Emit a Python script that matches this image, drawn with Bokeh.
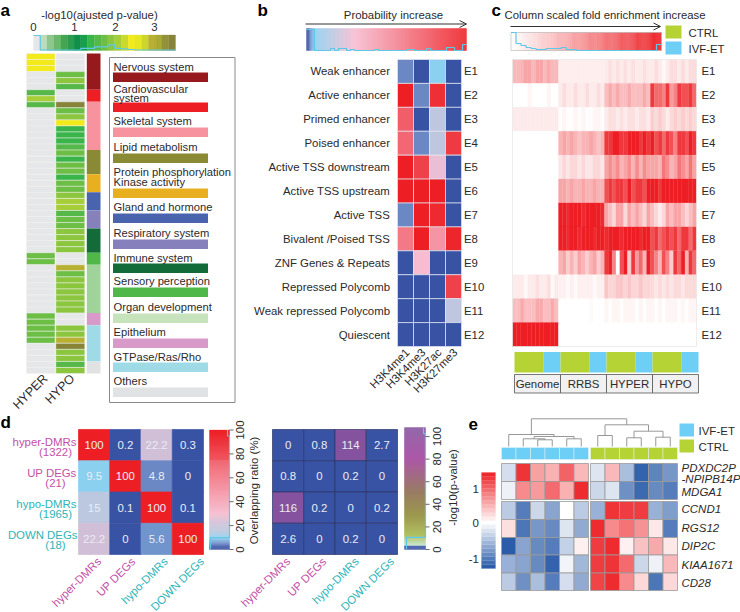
import numpy as np
from bokeh.plotting import figure
from bokeh.embed import file_html
from bokeh.resources import INLINE
from bokeh.models import Range1d, Arrow, OpenHead
from bokeh.core.properties import value

W, H = 740, 612
FONT = "Liberation Sans"
INK = "#2b2a2b"

# ---------- panel a ----------
A_TITLE = "-log10(ajusted p-value)"
A_TICKS = [0, 1, 2, 3]
A_COLORS = ["#e6e7e8", "#bcdcbc", "#8ec78e", "#6bb86b", "#45a650", "#2a9d50", "#108f48", "#16a04c",
            "#3ab54a", "#55b848", "#6cbe45", "#8cc63f", "#a6ce39", "#c8da2c", "#f2ea1b", "#e6e622",
            "#cdd62a", "#b8b030", "#a8a832", "#93923a", "#87843a"]
A_BIN = 0.162
A_HIST = [14, 0, 0, 0, 0, 0, 0, 1.6, 1.6, 3, 3, 5, 1.6, 1, 0.5, 0, 0, 0, 0, 0, 0]
HYPER = [2.35, 2.35, 2.35, 0, 0, 0, 1.6, 2.03, 1.6, 0, 0, 0, 0, 0, 0, 0, 0, 0, 0, 0, 0, 0, 0, 0, 0, 0, 0,
         0, 0, 0, 0, 0, 0, 1.7, 1.7, 0, 0, 0, 0, 0, 0, 0, 0, 1.7, 1.7, 1.7, 1.7, 1.7, 0, 0, 0, 0, 0]
HYPO = [0, 0, 0, 1.7, 1.87, 1.54, 0, 0, 3.3, 1.7, 1.87, 2.35, 1.38, 1.38, 1.38, 1.54, 1.7, 1.38, 1.7, 1.7,
        1.38, 1.7, 1.7, 1.87, 2.03, 2.03, 1.54, 1.7, 1.7, 1.87, 1.87, 1.87, 1.87, 0, 0, 2.9, 1.7, 1.87, 1.87,
        1.87, 1.87, 1.87, 1.87, 0, 0, 1.87, 1.87, 2.9, 3.3, 1.87, 1.87, 1.54, 1.87]
CATEGORY_ROWS = [6, 2, 8, 4, 3, 3, 3, 4, 2, 8, 2, 6, 2]
CATEGORY_STRIP = ["#961a1d", "#ed1f24", "#f6939e", "#8a8a35", "#e8b021", "#4a63ae", "#8680bd", "#126b38",
                  "#4fb848", "#a0d39a", "#d89ac8", "#9fdbe6", "#e1e2e4"]
LEGEND_LABELS = [["Nervous system"], ["Cardiovascular", "system"], ["Skeletal system"], ["Lipid metabolism"],
                 ["Protein phosphorylation", "Kinase activity"], ["Gland and hormone"], ["Respiratory system"],
                 ["Immune system"], ["Sensory perception"], ["Organ development"], ["Epithelium"],
                 ["GTPase/Ras/Rho"], ["Others"]]
LEGEND_COLORS = ["#961a1d", "#ed1f24", "#f6939e", "#8a8a35", "#e8b021", "#4a63ae", "#8680bd", "#126b38",
                 "#4fb848", "#c6e3bc", "#d89ac8", "#9fdbe6", "#e1e2e4"]
LEGEND_TEXT_Y = [[66], [88, 97], [120], [146], [171, 181], [206], [232], [257], [280], [306], [331], [356], [380]]
LEGEND_BAR_Y = [72, 102, 127, 153, 188, 213, 239, 263, 287, 313, 338, 362, 387]

# ---------- panel b ----------
B_STATES = ["Weak enhancer", "Active enhancer", "Primed enhancer", "Poised enhancer", "Active TSS downstream",
            "Active TSS upstream", "Active TSS", "Bivalent /Poised TSS", "ZNF Genes & Repeats",
            "Repressed Polycomb", "Weak repressed Polycomb", "Quiescent"]
B_MARKS = ["H3K4me1", "H3K4me3", "H3K27ac", "H3K27me3"]
B_PROB = [[0.02, 0, 0.05, 0], [1, 0.02, 0.93, 0], [0.72, 0, 0.17, 0], [0.68, 0.02, 0.17, 0.88],
          [1, 0.85, 0.27, 0], [1, 1, 1, 0], [0.02, 1, 0.95, 0], [0.6, 1, 0.48, 0.97],
          [0, 0.3, 0, 0], [0, 0, 0, 0.85], [0, 0, 0, 0.17], [0, 0, 0, 0]]
B_STOPS = [(0, "#3953a4"), (0.012, "#3953a4"), (0.02, "#6b88c5"), (0.05, "#8bd0ef"), (0.3, "#f7bcd0"), (1, "#ed1f24")]
B_HIST = [21, 21, 0, 0, 0, 0, 2, 0, 2, 2, 0, 1, 0, 0, 0, 0, 0, 1, 0, 0, 0, 0, 0, 0, 0, 1, 1, 0, 0, 0, 2, 0, 0,
          0, 0, 3, 3, 0, 0, 6]

# ---------- panel c ----------
C_GROUPS = ["Genome", "RRBS", "HYPER", "HYPO"]
C_STATES = ["E1", "E2", "E3", "E4", "E5", "E6", "E7", "E8", "E9", "E10", "E11", "E12"]
C_FOLD = [
 [2.8,2.8,3,3.6,3.6,2.8,3.6,3.6,2.8,3.4,2.8,2.8, .7,.7,.7,.7,.7,.7,.7,.7,.7,.7,.7,.7, .8,1.3,.8,1.3,.8,1.3,.8,1.3,.8,.8,1.3,.8, .8,1.4,.8,.3,.8,1.4,1.4,.8,1.4,.8,1.4,1.4],
 [0,0,0,0,.4,0,0,0,0,.4,0,0, .8,1.4,.8,.8,1.4,.8,.8,1.4,.8,.8,1.4,.8, 2.6,3.4,2.6,3.4,2.6,2.6,3.4,2.6,2.6,2.6,3.4,2.6, 8,6,6,5,8,4,5,8,7,7,8,6],
 [.8,.8,.8,.8,.8,.8,.8,.8,.8,.8,.8,.8, .1,.4,.1,.1,.4,.1,.4,.1,.1,.4,.4,.1, .8,1.3,1.3,.8,1.3,.8,1.3,1.3,.8,1.3,1.3,.8, 2,1.5,2,1.5,.8,1.5,2,1.5,2,1.5,2,1.5],
 [0,0,0,0,0,0,0,0,0,0,0,0, 3,3.6,3,3.6,3,2.4,3,3,3.6,3,2.4,3, 8,8,9,9,8,8,9,9,9,8,9,8, 9,7,8,6,8,7,5,8,8,7,9,8],
 [0,0,0,0,0,0,0,0,0,0,0,0, 1,1.6,1,1.6,1.6,1,1.6,1,1,1.6,1.6,1, 3.6,4.6,3.6,4.6,3,3.6,4.6,3,4.6,3,4.6,3.6, 3.6,3.6,3,5.5,4.6,3,3.6,5.5,4.6,3.6,5.5,3.6],
 [0,0,0,0,0,0,0,0,0,0,0,0, 3.6,3.6,3,3.6,3,3,3.6,3,3,3.6,3,3, 7,8,7,8,8,7,9,7,8,8,7,9, 9,9,8,9,9,9,9,9,9,9,9,9],
 [0,0,0,0,0,0,0,0,0,0,0,0, 9,9,8.5,9,9,9,8.5,9,9,9,9,8.5, 3.6,2.6,1.6,3.6,3.6,1.6,3.6,2.6,3.6,2.6,1.6,3.6, 2.6,1.6,.8,1.6,3.6,2.6,3.6,3.6,2.6,1.6,2.6,3.6],
 [0,0,0,0,0,0,0,0,0,0,0,0, 9,9,8.5,9,9,8.5,9,9,9,8.5,9,9, 8.5,9,9,9,8.5,9,9,9,9,8.5,9,9, 7,8,6,7,8,7,8,6,8,8,6,8],
 [0,0,0,0,0,0,0,0,0,0,0,0, 3,3.6,2,3,2,3.6,3,2,3,3.6,2,3, 8,9,5,0,7,9,2,8,4,6,3,9, 7,5,3,7,5,2,8,6,9,3,8,6],
 [.8,.8,.8,.3,.8,.8,1.3,.8,.8,1.3,.3,.8, .6,.6,.2,.6,.2,.6,.6,.6,.6,.2,.6,.6, 2.3,1.7,1.7,2.3,2.3,1.7,2.3,1.7,1.7,2.3,1.7,1.7, 1.5,1,1.5,1,1.5,1,1.5,1.5,1,1.5,1.5,1.5],
 [2.6,2.6,3.4,2.6,2.6,2.6,3.4,3.4,2.6,2.6,3.4,2.6, 0,0,0,0,0,0,0,0,.2,0,0,0, .4,.1,.4,.4,.1,.4,.4,.4,.1,.4,.1,.4, .4,.1,.4,.1,.4,.4,.4,.1,.4,.1,.4,.4],
 [9,9,9,9,9,9,9,9,9,9,9,9, 0,0,0,0,0,0,0,0,0,0,0,0, 0,0,0,0,0,0,0,0,0,0,0,0, 0,0,0,0,0,0,0,0,0,0,0,0],
]
C_HIST = [18, 7, 5, 3, 2, 1, 1, 2, 2, 2, 3, 1, 1, 0, 0, 0, 0, 0, 0, 0, 0, 0, 0, 0, 0, 0, 0, 0, 0, 6]
CTRL_COLOR, IVF_COLOR = "#b5d334", "#6dcff6"

# ---------- panel d ----------
D_NAMES = ["hyper-DMRs", "UP DEGs", "hypo-DMRs", "DOWN DEGs"]
D_COUNTS = ["(1322)", "(21)", "(1965)", "(18)"]
D_COLORS = ["#c44fa6", "#c44fa6", "#2db4b8", "#2db4b8"]
D_OVERLAP = [[100, 0.2, 22.2, 0.3], [9.5, 100, 4.8, 0], [15, 0.1, 100, 0.1], [22.2, 0, 5.6, 100]]
D_LOGP = [[0, 0.8, 114, 2.7], [0.8, 0, 0.2, 0], [116, 0.2, 0, 0.2], [2.6, 0, 0.2, 0]]
D_TICKS = [0, 20, 40, 60, 80, 100]
D_STOPS = [(0, "#3953a4"), (2, "#3953a4"), (4.8, "#6b88c5"), (9.5, "#8bd0ef"), (15, "#bcc8e0"), (22.2, "#d0bfd6"),
           (30, "#f7bcd0"), (100, "#ed1f24")]
P_STOPS = [(0, "#3953a4"), (3, "#3953a4"), (3.5, "#c2e4c8"), (12, "#a5b84b"), (30, "#8f8a35"), (50, "#8a6a4b"),
           (80, "#a0409a"), (108, "#84529e")]
D_HIST = [19, 19, 0, 0, 0, 0, 0, 0, 0, 0, 0, 0, 0, 0, 0, 0, 0, 0, 0, 2]

# ---------- panel e ----------
E_GENES = [["PDXDC2P", "-NPIPB14P"], ["MDGA1"], ["CCND1"], ["RGS12"], ["DIP2C"], ["KIAA1671"], ["CD28"]]
E_GENE_Y = [[467, 478], [491], [508], [527], [545], [564], [582]]
E_Z = [[-0.25, 1.3, 0.6, 0.5, 1.0, 0.45, -0.2, 0.45, -0.5, -1.2, -0.95, -0.8],
       [-0.1, 0.75, 0.65, 0.95, 0.5, 1.35, -0.3, -0.2, -0.85, -1.15, -0.9, -1.0],
       [-0.4, -1.0, -0.3, -0.7, 0, -0.4, -0.6, 1.3, 1.25, 1.25, -0.6, -0.75],
       [0.2, -1.05, -0.8, -0.9, -0.2, -0.65, 1.35, 0.75, 0.9, 0.7, 0.15, -1.0],
       [-1.25, -0.7, -0.9, -1.0, -0.35, 0.1, 1.25, 1.35, 0.1, 0.4, 0.55, 0.15],
       [-0.6, -0.7, -0.9, -1.2, -0.08, -0.55, 1.25, 1.3, 0.95, -0.3, -0.1, 0.45],
       [-0.4, -0.85, -0.5, -1.0, -0.25, -0.65, 1.2, 1.35, 0.75, 0.25, -1.05, 0.25]]
E_STOPS = [(-1.3, "#2356a6"), (0, "#ffffff"), (1.43, "#ed2024")]
E_TICKS = [1, 0, -1]
E_LINKS = [(2, 3, 6.7), (1, 12, 7.7), (4, 5, 7.7), (13, 14, 10), (0, 15, 12), (6, 7, 11), (8, 9, 8.7), (10, 11, 9.3),
           (18, 19, 15.3), (17, 20, 21.7), (16, 21, 27.7)]
E_ROOT_HEIGHT = 27.7

p = figure(width=W, height=H, x_range=Range1d(0, W), y_range=Range1d(H, 0), output_backend="svg",
           toolbar_location=None, x_axis_type=None, y_axis_type=None, min_border=0,
           outline_line_color=None, background_fill_color="white", border_fill_color="white")
p.grid.visible = False


def panel(name, px0, px1, py0, py1, dx0, dx1, dy0, dy1):
    sx = (dx1 - dx0) / (px1 - px0)
    sy = (dy1 - dy0) / (py1 - py0)
    p.extra_x_ranges[name] = Range1d(dx0 - px0 * sx, dx0 + (W - px0) * sx)
    p.extra_y_ranges[name] = Range1d(dy0 + (H - py0) * sy, dy0 - py0 * sy)
    return {"x_range_name": name, "y_range_name": name}


def to_rgb(h):
    return np.array([int(h[i:i + 2], 16) for i in (1, 3, 5)], float)


def cmap(stops, v):
    xs = [s[0] for s in stops]
    cs = np.array([to_rgb(s[1]) for s in stops])
    rgb = [np.interp(v, xs, cs[:, k]) for k in range(3)]
    return "#%02x%02x%02x" % tuple(int(round(c)) for c in rgb)


def txt(x, y, s, size=11.4, color=INK, align="left", angle=0.0, style="normal", font=FONT, baseline="middle", **kw):
    p.text([x], [y], text=[s], text_font=value(font), text_font_size=f"{size}px", text_color=color,
           text_align=align, text_baseline=baseline, angle=angle, text_font_style=style, **kw)


def heat(matrix, color_of, line, lw, rng):
    L, R, T, B, C = [], [], [], [], []
    for i, row in enumerate(matrix):
        for j, v in enumerate(row):
            L.append(j); R.append(j + 1); T.append(i); B.append(i + 1); C.append(color_of(v))
    p.quad(left=L, right=R, top=T, bottom=B, fill_color=C, line_color=line if line else C, line_width=lw, **rng)


def arrow(x0, x1, y):
    p.add_layout(Arrow(end=OpenHead(size=7, line_color="#333333", line_width=1), x_start=x0, y_start=y, x_end=x1, y_end=y,
                       line_color="#333333", line_width=1))


def hist_xy(vals):
    e = np.arange(len(vals) + 1)
    return np.repeat(e, 2)[1:-1], np.repeat(vals, 2)


LETTERS = [("a", 0, 10), ("b", 257, 10), ("c", 491, 10), ("d", 0, 422), ("e", 468, 423)]
for s, x, y in LETTERS:
    txt(x, y, s, size=17, color="#000000", style="bold")

# ---- a
txt(99, 14, A_TITLE, align="center")
p.quad(left=[i * A_BIN for i in range(21)], right=[(i + 1) * A_BIN for i in range(21)], top=0, bottom=1,
       fill_color=A_COLORS, line_color=A_COLORS, line_width=0.3,
       **panel("acbbar", 33, 175, 34.5, 50, 0, len(A_COLORS) * A_BIN, 0, 1))
for t, x in zip(A_TICKS, [33, 74, 115, 154]):
    txt(x, 26, str(t), align="center")
hx, hy = hist_xy(A_HIST)
p.line(hx, hy, line_color="#5fc8e6", line_width=1.2, **panel("acbh", 33, 175, 49.5, 35, 0, 21, 0, 14))


def a_color(v):
    return A_COLORS[min(int(v / A_BIN), 20)]


heat([[v] for v in HYPER], a_color, "#f0f0f0", 0.5, panel("ah", 26, 54.5, 53, 373, 0, 1, 0, len(HYPER)))
heat([[v] for v in HYPO], a_color, "#f0f0f0", 0.5, panel("ao", 55.3, 84.3, 53, 373, 0, 1, 0, len(HYPO)))
rs = panel("as", 86.3, 100, 53, 373, 0, 1, 0, sum(CATEGORY_ROWS))
edges = np.cumsum([0] + CATEGORY_ROWS)
p.quad(left=0, right=1, top=edges[:-1], bottom=edges[1:], fill_color=CATEGORY_STRIP, line_color=None, **rs)
txt(45, 376, "HYPER", size=12.5, align="right", angle=np.pi / 4)
txt(72, 376, "HYPO", size=12.5, align="right", angle=np.pi / 4)
p.quad(left=109, right=234.5, top=57, bottom=402, fill_color=None, line_color="#8a8a8a", line_width=1)
p.quad(left=112.5, right=207.5, top=LEGEND_BAR_Y, bottom=[y + 9.5 for y in LEGEND_BAR_Y], fill_color=LEGEND_COLORS,
       line_color=None)
for lines, ys in zip(LEGEND_LABELS, LEGEND_TEXT_Y):
    for s, y in zip(lines, ys):
        txt(113, y, s, size=11.2)

# ---- b
txt(393, 14, "Probability increase", align="center")
arrow(305, 466, 23.5)
xs = np.linspace(0, 1, 161)
cols = [cmap(B_STOPS, v) for v in xs[:-1]]
rb = panel("bcb", 306, 466, 28, 50, 0, 1, 0, 1)
p.quad(left=xs[:-1], right=xs[1:], top=0, bottom=1, fill_color=cols, line_color=cols, line_width=0.3, **rb)
hx, hy = hist_xy(B_HIST)
p.line(hx, hy, line_color="#5fc8e6", line_width=1.2, **panel("bh", 306, 466, 50, 29, 0, 40, 0, 21))
heat(B_PROB, lambda v: cmap(B_STOPS, v), "#e4e7f0", 0.7, panel("bm", 397, 461, 59, 346, 0, 4, 0, 12))
for i, s in enumerate(B_STATES):
    txt(389.5, 59 + (i + 0.5) * 23.92, s, align="right")
    txt(463.5, 59 + (i + 0.5) * 23.92, C_STATES[i])
for j, s in enumerate(B_MARKS):
    txt(397 + (j + 0.5) * 16 + 2, 350, s, align="right", angle=np.pi / 4)

# ---- c
txt(504, 14, "Column scaled fold enrichment increase", size=11.3)
arrow(510, 660, 26)
cols = [cmap([(0, "#ffffff"), (1, "#ed1f24")], v) for v in xs[:-1]]
rc = panel("ccb", 510.5, 661, 32, 50, 0, 1, 0, 1)
p.quad(left=xs[:-1], right=xs[1:], top=0, bottom=1, fill_color=cols, line_color=cols, line_width=0.3, **rc)
p.quad(left=0, right=1, top=0, bottom=1, fill_color=None, line_color="#bdbdbd", line_width=0.7, **rc)
hx, hy = hist_xy(C_HIST)
p.line(hx, hy, line_color="#5fc8e6", line_width=1.2, **panel("ch", 510.5, 661, 50, 32, 0, 30, 0, 18))
for (s, c), y in zip([("CTRL", CTRL_COLOR), ("IVF-ET", IVF_COLOR)], [25, 41]):
    p.quad(left=665, right=681, top=y, bottom=y + 13, fill_color=c, line_color=None)
    txt(688, y + 7, s)
heat(C_FOLD, lambda v: cmap([(0, "#ffffff"), (9, "#ed1f24")], v), None, 0.3, panel("cm", 512, 696, 59, 346, 0, 48, 0, 12))
p.quad(left=512, right=696, top=59, bottom=346, fill_color=None, line_color="#e8e8e8", line_width=0.8)
for i, s in enumerate(C_STATES):
    txt(701, 59 + (i + 0.5) * 23.92, s)
rg = panel("cg", 514, 698, 351.5, 372, 0, 32, 0, 1)
rl = panel("cl", 514, 698, 374, 392.5, 0, 4, 0, 1)
for g, name in enumerate(C_GROUPS):
    p.quad(left=[g * 8, g * 8 + 5], right=[g * 8 + 5, g * 8 + 8], top=0, bottom=1, fill_color=[CTRL_COLOR, IVF_COLOR],
           line_color=None, **rg)
    p.quad(left=g, right=g + 1, top=0, bottom=1, fill_color="#f1f1f2", line_color="#555555", line_width=0.8, **rl)
    txt(g + 0.5, 0.5, name, align="center", **rl)

# ---- d
for px0, matrix, stops, line, offs, nm in [(78, D_OVERLAP, D_STOPS, None, [5, 8, 9, 14], "l"),
                                            (272, D_LOGP, P_STOPS, "#2b3566", [0, 5, 6, 10], "r")]:
    rd = panel("d" + nm, px0, px0 + 125, 429, 554, 0, 4, 0, 4)
    heat(matrix, lambda v: cmap(stops, v), line, 0.7, rd)
    for i, row in enumerate(matrix):
        for j, v in enumerate(row):
            txt(j + 0.5, i + 0.5, str(v), color="#e9edf5", align="center", **rd)
    for j, s in enumerate(D_NAMES):
        txt(px0 + (j + 0.5) * 31.25 + offs[j], 559, s, color=D_COLORS[j], align="right", angle=np.pi / 4)
for i, s in enumerate(D_NAMES):
    yy = 429 + i * 31.25
    txt(76 if i != 3 else 77, yy + 12, s, color=D_COLORS[i], align="right")
    txt(55, yy + 22, D_COUNTS[i], color=D_COLORS[i], align="center")

vals = np.linspace(0, 100, 121)
cols = [cmap(D_STOPS, v) for v in vals[:-1]]
rd1 = panel("d1", 209, 229, 549, 429.5, 20, 0, 0, 100)
p.quad(left=20, right=0, top=vals[1:], bottom=vals[:-1], fill_color=cols, line_color=cols, line_width=0.3, **rd1)
hx, hy = hist_xy(D_HIST)
p.line(hy, hx * 5, line_color="#5fc8e6", line_width=1.2, **rd1)
for t in D_TICKS:
    p.segment(x0=0, x1=-4, y0=t, y1=t, line_color="#444444", line_width=0.8, **rd1)
    txt(239, 549 - t * 1.195, str(t), align="center", angle=np.pi / 2)
txt(253, 490, "Overlapping ratio (%)", align="center", angle=np.pi / 2)

vals = np.linspace(0, 108, 123)
cols = [cmap(P_STOPS, v) for v in vals[:-1]]
rd2 = panel("d2", 404, 425, 549, 427, 21, 0, 0, 108)
p.quad(left=21, right=0, top=vals[1:], bottom=vals[:-1], fill_color=cols, line_color=cols, line_width=0.3, **rd2)
p.line(hy, hx * 5.4, line_color="#5fc8e6", line_width=1.2, **rd2)
for t in D_TICKS:
    p.segment(x0=0, x1=-4, y0=t, y1=t, line_color="#444444", line_width=0.8, **rd2)
    txt(436, 549 - t * 1.13, str(t), align="center", angle=np.pi / 2)
txt(452, 487, "-log10(p-value)", align="center", angle=np.pi / 2)

# ---- e
GAP = 0.14
rows = [(463, 481), (481, 499), (501, 519), (519, 537), (537, 554.5), (554.5, 572.5), (572.5, 590)]
L, R, T, B, C = [], [], [], [], []
re_m = panel("emm", 501, 677, 463, 590, 0, 12 + GAP, 463, 590)
for i, row in enumerate(E_Z):
    for j, v in enumerate(row):
        o = GAP if j >= 6 else 0
        L.append(j + o); R.append(j + 1 + o); T.append(rows[i][0]); B.append(rows[i][1]); C.append(cmap(E_STOPS, v))
p.quad(left=L, right=R, top=T, bottom=B, fill_color=C, line_color="#9a9a9a", line_width=0.8, **re_m)
rann = panel("ea", 501, 677, 447, 459, 0, 12 + GAP, 0, 1)
p.quad(left=[j + (GAP if j >= 6 else 0) for j in range(12)], right=[j + 1 + (GAP if j >= 6 else 0) for j in range(12)],
       top=0, bottom=1, fill_color=[IVF_COLOR] * 6 + [CTRL_COLOR] * 6, line_color="#e8f3f3", line_width=0.5, **rann)
rden = panel("ed", 501, 677, 446, 418.3, 0, 12 + GAP, 0, E_ROOT_HEIGHT)
pos = {j: (j + 0.5 + (GAP if j >= 6 else 0), 0.0) for j in range(12)}
n = 12
for a, b, h in E_LINKS:
    (xa, ha), (xb, hb) = pos[a], pos[b]
    p.line([xa, xa, xb, xb], [ha, h, h, hb], line_color="#8c8c8c", line_width=0.9, **rden)
    pos[n] = ((xa + xb) / 2, h)
    n += 1
for lines, ys in zip(E_GENES, E_GENE_Y):
    for s, y in zip(lines, ys):
        txt(681, y, s, size=11.5, style="italic")
for s, c, y in [("IVF-ET", IVF_COLOR, 423), ("CTRL", CTRL_COLOR, 439)]:
    p.quad(left=679, right=693.5, top=y, bottom=y + 13, fill_color=c, line_color=None)
    txt(698, y + 7, s, size=11.5)
vals = np.linspace(-1.3, 1.43, 25)
cols = [cmap(E_STOPS, (a + b) / 2) for a, b in zip(vals[:-1], vals[1:])]
rcb = panel("ecb", 481, 495, 568, 472, 0, 1, -1.3, 1.43)
p.quad(left=0, right=1, top=vals[1:], bottom=vals[:-1], fill_color=cols, line_color=cols, line_width=0.2, **rcb)
for t, y in zip(E_TICKS, [488, 522, 558]):
    txt(478.5, y, str(t), size=11.5, align="right")

open("out.html", "w").write(file_html(p, INLINE))
